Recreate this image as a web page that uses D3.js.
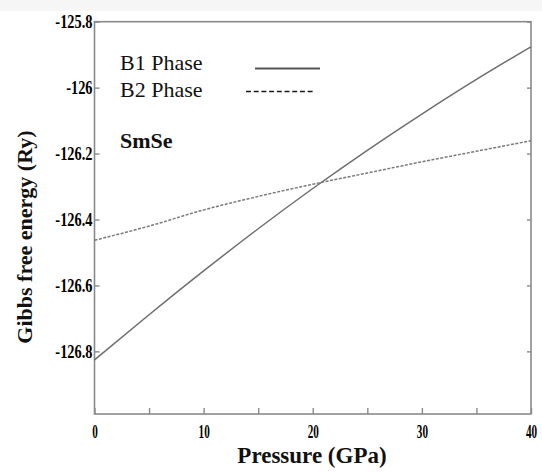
<!DOCTYPE html>
<html>
<head>
<meta charset="utf-8">
<script src="https://cdn.jsdelivr.net/npm/d3@7"></script>
<style>
  html, body { margin: 0; padding: 0; background: #fff; }
  svg { display: block; }
  svg text { font-family: "Liberation Serif", "Times New Roman", Tinos, "DejaVu Serif", serif; }
</style>
</head>
<body>
<svg id="chart" width="542" height="473"></svg>
<script>
// Pressure grid (GPa) and Gibbs free energy (Ry) of SmSe in both phases
const pressure = [0, 5, 10, 15, 20, 25, 30, 35, 40];
const b1Energy = [-126.826, -126.689, -126.556, -126.428, -126.306, -126.190, -126.080, -125.975, -125.876];
const b2Energy = [-126.463, -126.420, -126.371, -126.330, -126.293, -126.259, -126.225, -126.193, -126.161];

const xTicks = [0, 5, 10, 15, 20, 25, 30, 35, 40];
const xTickLabels = ["0", "", "10", "", "20", "", "30", "", "40"];
const yTicks = [-125.8, -126, -126.2, -126.4, -126.6, -126.8];
const yTickLabels = ["-125.8", "-126", "-126.2", "-126.4", "-126.6", "-126.8"];

const seriesNames = ["B1 Phase", "B2 Phase"];
const compound = "SmSe";

const svg = d3.select("#chart");
const W = 542, H = 473;
const plotLeft = 94.5, plotRight = 531, plotTop = 21.7, plotBottom = 414;

// faint band along the top edge
svg.append("rect").attr("x", 0).attr("y", 0).attr("width", W).attr("height", 11)
  .attr("fill", "#f6f6f6");

const x = d3.scaleLinear().domain([0, 40]).range([plotLeft, plotRight]);
const y = d3.scaleLinear().domain([-126.99, -125.8]).range([plotBottom, plotTop]);

const axisColor = "#8a8a8a";
const xLabelSqueeze = 0.62, yLabelSqueeze = 0.8;

// frame
svg.append("rect")
  .attr("x", plotLeft).attr("y", plotTop)
  .attr("width", plotRight - plotLeft).attr("height", plotBottom - plotTop)
  .attr("fill", "none").attr("stroke", axisColor).attr("stroke-width", 1.6);

// bottom axis: ticks every 5 GPa pointing inward, labels every 10
const xAxis = d3.axisBottom(x).tickValues(xTicks)
  .tickFormat((d, i) => xTickLabels[i])
  .tickSizeInner(-6).tickSizeOuter(0).tickPadding(11);
const gx = svg.append("g").attr("transform", `translate(0,${plotBottom})`).call(xAxis);
gx.attr("font-family", null);
gx.select(".domain").remove();
gx.selectAll(".tick line").attr("stroke", axisColor).attr("stroke-width", 1.4);
gx.selectAll(".tick text")
  .attr("font-weight", "bold").attr("font-size", 18)
  .attr("fill", "#000").attr("transform", `scale(${xLabelSqueeze},1)`);

// left axis
const yAxis = d3.axisLeft(y).tickValues(yTicks)
  .tickFormat((d, i) => yTickLabels[i])
  .tickSizeInner(-5).tickSizeOuter(0).tickPadding(3);
const gy = svg.append("g").attr("transform", `translate(${plotLeft},0)`).call(yAxis);
gy.attr("font-family", null);
gy.select(".domain").remove();
gy.selectAll(".tick line").attr("stroke", axisColor).attr("stroke-width", 1.4);
gy.selectAll(".tick text")
  .attr("font-weight", "bold").attr("font-size", 18)
  .attr("fill", "#000").attr("x", -2 / yLabelSqueeze)
  .attr("transform", `scale(${yLabelSqueeze},1)`);

// right axis ticks (inward, unlabeled)
const yAxisR = d3.axisRight(y).tickValues(yTicks).tickFormat("")
  .tickSizeInner(-4).tickSizeOuter(0);
const gyr = svg.append("g").attr("transform", `translate(${plotRight},0)`).call(yAxisR);
gyr.select(".domain").remove();
gyr.selectAll(".tick line").attr("stroke", axisColor).attr("stroke-width", 1.4);

// curves
const line = d3.line().x((d, i) => x(pressure[i])).y(d => y(d)).curve(d3.curveMonotoneX);

svg.append("path").datum(b1Energy).attr("d", line)
  .attr("fill", "none").attr("stroke", "#6e6e6e").attr("stroke-width", 1.5);

svg.append("path").datum(b2Energy).attr("d", line)
  .attr("fill", "none").attr("stroke", "#7a7a7a").attr("stroke-width", 1.5)
  .attr("stroke-dasharray", "3,1.5");

// legend
const legend = svg.append("g");
legend.append("text").attr("x", 120).attr("y", 70).text(seriesNames[0])
  .attr("font-size", 22).attr("fill", "#111");
legend.append("text").attr("x", 120).attr("y", 96.5).text(seriesNames[1])
  .attr("font-size", 22).attr("fill", "#111");
legend.append("line").attr("x1", 255).attr("x2", 320).attr("y1", 68.5).attr("y2", 68.5)
  .attr("stroke", "#555").attr("stroke-width", 2.2);
legend.append("line").attr("x1", 246).attr("x2", 315).attr("y1", 91.5).attr("y2", 91.5)
  .attr("stroke", "#1a1a1a").attr("stroke-width", 1.6).attr("stroke-dasharray", "5,2.7");

svg.append("text").attr("x", 120).attr("y", 148).text(compound)
  .attr("font-weight", "bold").attr("font-size", 22).attr("fill", "#111");

// axis titles
svg.append("text")
  .attr("x", 312).attr("y", 463)
  .attr("text-anchor", "middle")
  .attr("font-weight", "bold").attr("font-size", 23)
  .attr("fill", "#111")
  .text("Pressure (GPa)");

svg.append("text")
  .attr("transform", `translate(32,237) rotate(-90)`)
  .attr("text-anchor", "middle")
  .attr("font-weight", "bold").attr("font-size", 22)
  .attr("fill", "#111")
  .text("Gibbs free energy (Ry)");
</script>
</body>
</html>
